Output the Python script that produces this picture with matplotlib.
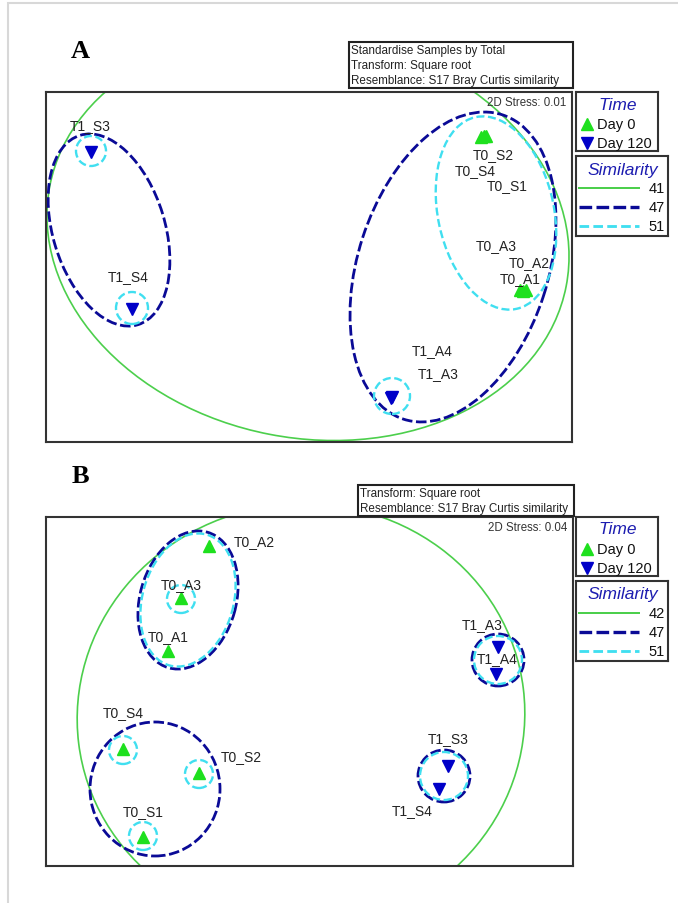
import matplotlib.pyplot as plt
from matplotlib.patches import Ellipse, Rectangle

plt.rcParams["font.family"] = ["Liberation Sans", "DejaVu Sans"]

W, H = 678, 904  # px

# --- panel A: nMDS positions (plot units) ---
a_names = ["T0_S1", "T0_S2", "T0_S4", "T0_A1", "T0_A2", "T0_A3",
           "T1_S3", "T1_S4", "T1_A3", "T1_A4"]
a_x = [438, 440, 435, 477, 480, 474, 45, 86, 345, 346]
a_y = [306, 306, 305, 151, 152, 152, 290, 133, 44, 45]
a_day = [0, 0, 0, 0, 0, 0, 120, 120, 120, 120]
a_levels = [41, 47, 51]
a_stress = 0.01
# similarity contours: (cx, cy, width, height, angle)
a_sim_low = [(262, 206, 526, 404, -11)]
a_sim_mid = [(63, 212, 198, 112, 107), (407, 175, 320, 190, 72)]
a_sim_high = [(450, 229, 196, 116, 102), (45, 291, 30, 30, 0),
              (86, 134, 32, 32, 0), (346, 46, 36, 36, 0)]

# --- panel B ---
b_names = ["T0_A1", "T0_A2", "T0_A3", "T0_S1", "T0_S2", "T0_S4",
           "T1_A3", "T1_A4", "T1_S3", "T1_S4"]
b_x = [122, 163, 135, 97, 153, 77, 452, 450, 402, 393]
b_y = [215, 320, 268, 29, 93, 117, 219, 192, 100, 77]
b_day = [0, 0, 0, 0, 0, 0, 120, 120, 120, 120]
b_levels = [42, 47, 51]
b_stress = 0.04
b_sim_low = [(255, 150, 448, 424, 7)]
b_sim_mid = [(142, 266, 141, 96, 74), (109, 77, 130, 134, 0),
             (452, 206, 52, 52, 0), (398, 90, 52, 52, 0)]
b_sim_high = [(142, 266, 136, 91, 74), (135, 267, 28, 28, 0),
              (77, 116, 28, 28, 0), (153, 92, 28, 28, 0), (97, 30, 28, 28, 0),
              (452, 206, 48, 48, 0), (398, 90, 48, 48, 0)]

a_info = ["Standardise Samples by Total", "Transform: Square root",
          "Resemblance: S17 Bray Curtis similarity"]
b_info = ["Transform: Square root", "Resemblance: S17 Bray Curtis similarity"]

# label offsets from the point (px)
a_lab = {"T0_S1": (23, -49), "T0_S2": (7, -18), "T0_S4": (-6, -33),
         "T0_A1": (-3, 13), "T0_A2": (3, 28), "T0_A3": (-24, 45),
         "T1_S3": (-1, 27), "T1_S4": (-4, 33), "T1_A3": (47, 25), "T1_A4": (40, 47)}
b_lab = {"T0_A1": (0, 15), "T0_A2": (45, 5), "T0_A3": (0, 14),
         "T0_S1": (0, 26), "T0_S2": (42, 17), "T0_S4": (0, 37),
         "T1_A3": (-16, 23), "T1_A4": (1, 16), "T1_S3": (0, 28), "T1_S4": (-27, -21)}

GREEN = "#1ee01e"
BLUE = "#0000c8"
LINE_STYLES = [
    dict(color="#4ccf4c", lw=1.2, ls="-"),
    dict(color="#0a0a96", lw=2.0, ls=(0, (3.8, 1.3))),
    dict(color="#40dff0", lw=1.7, ls=(0, (3.4, 1.5))),
]
TITLE_C = "#1c1cb0"

fig = plt.figure(figsize=(W / 100, H / 100), dpi=100)

# light page frame
fig.add_artist(Rectangle((8 / W, -0.1), 1, 1.1 - 4 / H, fill=False,
                         ec="#d8d8d8", lw=1.5, transform=fig.transFigure))


def px_axes(x0, y0, x1, y1):
    ax = fig.add_axes([x0 / W, 1 - y1 / H, (x1 - x0) / W, (y1 - y0) / H])
    ax.set_xticks([])
    ax.set_yticks([])
    for s in ax.spines.values():
        s.set_linewidth(1.5)
        s.set_color("#333333")
    return ax


def info_box(x0, y0, x1, lines):
    y1 = y0 + 1 + 15 * len(lines)
    fig.add_artist(Rectangle((x0 / W, 1 - y1 / H), (x1 - x0) / W, (y1 - y0) / H,
                             fill=False, ec="#222222", lw=1.5,
                             transform=fig.transFigure))
    for i, t in enumerate(lines):
        fig.text((x0 + 2) / W, 1 - (y0 + 8 + 15 * i) / H, t,
                 fontsize=8.4, va="center", ha="left", color="#222222")


def legends(top, levels):
    lt = px_axes(576, top, 658, top + 59)
    lt.set_xlim(0, 82)
    lt.set_ylim(59, 0)
    lt.text(42, 12, "Time", ha="center", va="center", fontsize=12.5,
            style="italic", color=TITLE_C)
    lt.plot(11, 32, marker="^", color=GREEN, ms=8, ls="none")
    lt.text(21, 32, "Day 0", va="center", fontsize=10.5, color="#111111")
    lt.plot(11, 51, marker="v", color=BLUE, ms=8, ls="none")
    lt.text(21, 51, "Day 120", va="center", fontsize=10.5, color="#111111")

    ls_ = px_axes(576, top + 64, 668, top + 144)
    ls_.set_xlim(0, 92)
    ls_.set_ylim(80, 0)
    ls_.text(47, 13, "Similarity", ha="center", va="center", fontsize=12.5,
             style="italic", color=TITLE_C)
    for i, (lev, st) in enumerate(zip(levels, LINE_STYLES)):
        yy = 32 + 19 * i
        ls_.plot([3, 63], [yy, yy], color=st["color"], lw=st["lw"] * 1.2,
                 ls=st["ls"])
        ls_.text(89, yy, str(lev), ha="right", va="center", fontsize=10.5,
                 color="#111111")


def panel(box, letter, names, xs, ys, days, labs, contours, stress):
    x0, y0, x1, y1 = box
    ax = px_axes(x0, y0, x1, y1)
    ax.set_xlim(0, x1 - x0)
    ax.set_ylim(0, y1 - y0)
    for shapes, st in zip(contours, LINE_STYLES):
        for cx, cy, w, h, ang in shapes:
            ax.add_patch(Ellipse((cx, cy), w, h, angle=ang, fill=False,
                                 ec=st["color"], lw=st["lw"], ls=st["ls"]))
    for n, x, y, d in zip(names, xs, ys, days):
        ax.plot(x, y, marker="^" if d == 0 else "v",
                color=GREEN if d == 0 else BLUE, ms=8, ls="none", zorder=5)
        dx, dy = labs[n]
        ax.text(x + dx, y + dy, n, ha="center", va="center", fontsize=10,
                color="#222222", zorder=6)
    ax.text(x1 - x0 - 6, y1 - y0 - 10, "2D Stress: %.2f" % stress,
            ha="right", va="center", fontsize=8.3, color="#333333")
    fig.text((x0 + 34) / W, 1 - (y0 - 41) / H, letter, fontsize=19,
             fontweight="bold", family="Liberation Serif", ha="center",
             va="center")
    return ax


panel((46, 93, 572, 443), "A", a_names, a_x, a_y, a_day, a_lab,
      [a_sim_low, a_sim_mid, a_sim_high], a_stress)
info_box(349, 43, 573, a_info)
legends(93, a_levels)

panel((46, 518, 573, 867), "B", b_names, b_x, b_y, b_day, b_lab,
      [b_sim_low, b_sim_mid, b_sim_high], b_stress)
info_box(358, 486, 574, b_info)
legends(518, b_levels)

fig.savefig("out.png", dpi=100)
